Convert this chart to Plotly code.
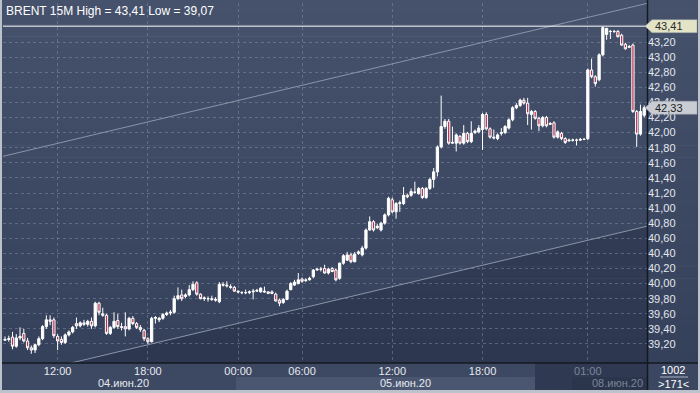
import plotly.graph_objects as go

# ---------------- data ----------------
open_ = [39.25,39.26,39.29,39.17,39.28,39.34,39.24,39.15,39.12,39.19,
         39.27,39.43,39.52,39.52,39.30,39.26,39.22,39.32,39.36,39.47,
         39.44,39.48,39.46,39.50,39.44,39.74,39.60,39.58,39.34,39.42,
         39.51,39.43,39.43,39.40,39.54,39.47,39.42,39.38,39.27,39.23,
         39.54,39.52,39.54,39.59,39.61,39.62,39.80,39.85,39.83,39.85,
         39.92,40.01,39.86,39.80,39.80,39.80,39.78,39.76,39.99,39.98,
         39.96,39.95,39.90,39.88,39.88,39.88,39.89,39.90,39.89,39.90,
         39.89,39.89,39.86,39.78,39.75,39.79,39.92,39.98,40.00,40.06,
         40.05,40.05,40.09,40.18,40.19,40.20,40.14,40.20,40.18,40.07,
         40.27,40.31,40.38,40.29,40.40,40.38,40.47,40.71,40.82,40.74,
         40.71,40.80,40.91,41.11,40.95,41.06,41.06,41.17,41.17,41.21,
         41.19,41.26,41.14,41.26,41.38,41.48,41.81,42.08,42.15,41.86,
         41.86,41.95,41.86,41.99,41.88,42.00,42.01,42.04,42.24,42.05,
         41.94,41.92,41.99,42.00,42.06,42.17,42.33,42.36,42.43,42.39,
         42.24,42.28,42.19,42.09,42.20,42.11,42.13,41.94,41.99,41.92,
         41.89,41.90,41.90,41.90,41.91,41.92,42.83,42.74,42.70,43.03,
         43.30,43.34,43.34,43.34,43.29,43.17,43.13,43.16,42.28,41.98,
         42.23]
high = [39.30,39.31,39.36,39.33,39.42,39.40,39.28,39.18,39.20,39.30,
        39.45,39.58,39.58,39.55,39.33,39.30,39.34,39.38,39.44,39.55,
        39.50,39.52,39.52,39.55,39.76,39.76,39.68,39.60,39.44,39.62,
        39.60,39.48,39.62,39.56,39.57,39.49,39.45,39.40,39.29,39.56,
        39.57,39.56,39.61,39.63,39.65,39.84,39.95,39.92,39.87,39.98,
        40.03,40.03,39.87,39.83,39.83,39.84,39.82,40.02,40.02,40.03,
        39.99,39.97,39.91,39.90,39.92,39.91,39.93,39.93,39.95,39.96,
        39.90,39.91,39.88,39.80,39.81,39.92,40.02,40.05,40.14,40.08,
        40.07,40.09,40.19,40.21,40.22,40.25,40.21,40.22,40.20,40.28,
        40.39,40.42,40.41,40.42,40.44,40.50,40.73,40.89,40.84,40.79,
        40.82,40.93,41.15,41.14,41.08,41.10,41.28,41.19,41.26,41.35,
        41.28,41.28,41.28,41.40,41.53,41.83,42.49,42.18,42.18,42.08,
        41.99,41.97,42.10,42.01,42.15,42.04,42.10,42.26,42.27,42.07,
        42.04,41.99,42.06,42.10,42.19,42.35,42.39,42.45,42.46,42.46,
        42.30,42.30,42.21,42.22,42.22,42.14,42.15,42.03,42.01,41.94,
        41.92,41.92,41.92,41.93,41.93,42.85,42.98,42.76,43.05,43.41,
        43.39,43.36,43.36,43.36,43.31,43.19,43.16,43.18,42.30,42.37,
        42.36]
low = [39.24,39.23,39.13,39.15,39.25,39.22,39.12,39.07,39.08,39.17,
       39.25,39.40,39.45,39.28,39.12,39.19,39.20,39.30,39.34,39.40,
       39.42,39.44,39.43,39.40,39.42,39.58,39.56,39.32,39.32,39.40,
       39.40,39.38,39.30,39.38,39.45,39.40,39.36,39.24,39.20,39.22,
       39.47,39.49,39.52,39.57,39.58,39.60,39.78,39.77,39.81,39.83,
       39.90,39.84,39.79,39.77,39.76,39.77,39.76,39.74,39.96,39.95,
       39.93,39.89,39.87,39.86,39.86,39.86,39.79,39.89,39.88,39.88,
       39.86,39.86,39.76,39.70,39.73,39.78,39.91,39.97,39.99,40.01,
       40.02,40.04,40.07,40.17,40.16,40.13,40.12,40.15,40.03,40.05,
       40.25,40.30,40.27,40.28,40.38,40.36,40.45,40.70,40.69,40.72,
       40.69,40.78,40.89,40.93,40.86,40.95,41.04,41.13,41.15,41.19,
       41.18,41.12,41.12,41.24,41.27,41.42,41.79,42.05,41.84,41.85,
       41.75,41.84,41.84,41.86,41.86,41.98,41.99,41.77,42.03,41.92,
       41.91,41.90,41.96,41.98,42.04,42.15,42.31,42.34,42.37,42.10,
       42.04,42.17,42.02,42.07,42.07,42.10,41.92,41.92,41.90,41.85,
       41.88,41.88,41.83,41.89,41.90,41.90,42.72,42.61,42.68,43.01,
       43.23,43.24,43.32,43.26,43.15,43.10,43.12,42.26,41.81,41.96,
       42.20]
close = [39.26,39.27,39.17,39.28,39.30,39.24,39.15,39.12,39.19,39.27,
         39.43,39.52,39.50,39.31,39.24,39.22,39.32,39.36,39.42,39.44,
         39.48,39.46,39.50,39.44,39.74,39.62,39.58,39.34,39.42,39.50,
         39.43,39.42,39.40,39.54,39.47,39.42,39.39,39.27,39.23,39.54,
         39.55,39.54,39.59,39.61,39.62,39.80,39.84,39.80,39.85,39.92,
         39.99,39.86,39.80,39.81,39.80,39.79,39.79,39.99,39.98,39.97,
         39.95,39.90,39.89,39.88,39.88,39.89,39.90,39.91,39.94,39.89,
         39.87,39.87,39.77,39.74,39.79,39.90,40.00,40.02,40.05,40.03,
         40.04,40.07,40.18,40.19,40.19,40.14,40.19,40.16,40.05,40.27,
         40.37,40.38,40.29,40.39,40.42,40.47,40.71,40.82,40.71,40.76,
         40.80,40.91,41.13,40.95,41.06,41.07,41.17,41.15,41.22,41.21,
         41.26,41.14,41.26,41.38,41.48,41.81,42.08,42.15,41.86,41.87,
         41.97,41.86,41.99,41.88,41.99,42.02,42.06,42.24,42.05,41.94,
         41.93,41.97,42.00,42.08,42.17,42.33,42.36,42.43,42.39,42.25,
         42.28,42.19,42.09,42.20,42.09,42.12,41.94,42.01,41.92,41.87,
         41.90,41.90,41.90,41.91,41.91,42.83,42.74,42.65,43.03,43.39,
         43.38,43.34,43.34,43.27,43.16,43.11,43.14,42.28,41.98,42.28,
         42.33]
bars = list(range(len(close)))

time_tick_pos = [14, 38, 62, 79, 103, 127, 155]
time_tick_text = ["12:00", "18:00", "00:00", "06:00", "12:00", "18:00", "01:00"]
date_pos = [31.4, 106.4, 163]
date_text = ["04.июн.20", "05.июн.20", "08.июн.20"]
price_ticks = [39.2 + 0.2 * k for k in range(21)]
title_text = "BRENT 15M High = 43,41 Low = 39,07"
hi_val, last_val = 43.41, 42.33

# ---------------- layout geometry (pixels) ----------------
W, H = 700, 393
ML, MR, MT, MB = 3, 53, 3, 30
PW, PH = W - ML - MR, H - MT - MB
def px(x):  # pixel x -> paper
    return (x - ML) / PW
def py(y):  # pixel y -> paper
    return (H - MB - y) / PH

X0, X1 = -0.53, 170.74
Y0, Y1 = 38.948, 43.717
ppu = PH / (Y1 - Y0)  # pixels per price unit

FONT = "Liberation Sans Narrow, Liberation Sans, Arial"

fig = go.Figure()
fig.add_trace(go.Candlestick(
    x=bars, open=open_, high=high, low=low, close=close,
    increasing=dict(line=dict(color="#ffffff", width=1), fillcolor="#ffffff"),
    decreasing=dict(line=dict(color="#ffffff", width=1), fillcolor="#b8324f"),
    whiskerwidth=0, hoverinfo="skip", showlegend=False,
))

shapes = []
def lerp(c1, c2, t):
    return "#%02x%02x%02x" % tuple(int(round(a + (b - a) * t)) for a, b in zip(c1, c2))
top_c, bot_c = (0x46, 0x52, 0x6c), (0x35, 0x40, 0x5a)
N = 30
for k in range(N):
    ya, yb = (H - MB) * k / N, (H - MB) * (k + 1) / N
    shapes.append(dict(type="rect", xref="paper", yref="paper", layer="below",
                       x0=px(2), x1=px(698), y0=py(yb + 0.5), y1=py(ya),
                       fillcolor=lerp(top_c, bot_c, (k + 0.5) / N), line=dict(width=0)))
# bottom strip
shapes.append(dict(type="rect", xref="paper", yref="paper", layer="below",
                   x0=px(2), x1=px(698), y0=py(390), y1=py(363),
                   fillcolor="#3d4962", line=dict(width=0)))
shapes.append(dict(type="rect", xref="paper", yref="paper", layer="below",
                   x0=px(236), x1=px(535), y0=py(390), y1=py(377),
                   fillcolor="#4a566f", line=dict(width=0)))
shapes.append(dict(type="rect", xref="paper", yref="paper", layer="below",
                   x0=px(535), x1=px(647), y0=py(390), y1=py(363),
                   fillcolor="#2f3a52", line=dict(width=0)))
shapes.append(dict(type="rect", xref="paper", yref="paper", layer="below",
                   x0=px(572), x1=px(647), y0=py(390), y1=py(377),
                   fillcolor="#2b354c", line=dict(width=0)))
shapes.append(dict(type="rect", xref="paper", yref="paper", layer="below",
                   x0=px(647), x1=px(698), y0=py(390), y1=py(363),
                   fillcolor="#3b4760", line=dict(width=0)))
# darker area below lower channel line
slope = 0.01183
lo0 = 38.734
lo1 = lo0 + slope * (X1 - X0)
up0 = 41.686
up1 = up0 + slope * (X1 - X0)
shapes.append(dict(type="path", xref="x", yref="y", layer="below",
                   path=f"M {X0},{lo0} L {X1},{lo1} L {X1},{Y0 - 1} L {X0},{Y0 - 1} Z",
                   fillcolor="rgba(16,24,42,0.22)", line=dict(width=0)))
for a, b in ((lo0, lo1), (up0, up1)):
    shapes.append(dict(type="line", xref="x", yref="y", layer="between",
                       x0=X0, x1=X1, y0=a, y1=b,
                       line=dict(color="#8a94a8", width=1)))
shapes.append(dict(type="line", xref="paper", yref="y", layer="above",
                   x0=0, x1=1, y0=hi_val, y1=hi_val,
                   line=dict(color="#ffffff", width=1)))
shapes.append(dict(type="line", xref="paper", yref="paper", layer="above",
                   x0=px(2), x1=px(698), y0=py(363), y1=py(363),
                   line=dict(color="#141821", width=1.5)))
shapes.append(dict(type="line", xref="paper", yref="paper", layer="above",
                   x0=px(647.5), x1=px(647.5), y0=py(390), y1=py(0),
                   line=dict(color="#141821", width=1.5)))
def marker(val, fill):
    h = 6.5 / ppu
    shapes.append(dict(type="path", xref="paper", yref="y", layer="above",
                       path=f"M {px(645)},{val} L {px(652)},{val + h} L {px(697)},{val + h} "
                            f"L {px(697)},{val - h} L {px(652)},{val - h} Z",
                       fillcolor=fill, line=dict(color="#9aa0a8", width=0.5)))
marker(hi_val, "#e3e3c6")
marker(last_val, "#c9cdd3")
shapes.append(dict(type="line", xref="paper", yref="paper", layer="above",
                   x0=px(660), x1=px(688), y0=py(377), y1=py(377),
                   line=dict(color="#aab3c2", width=1)))

annotations = [
    dict(text=title_text, xref="paper", yref="paper", x=px(4), y=py(2),
         xanchor="left", yanchor="top", showarrow=False,
         font=dict(family=FONT, size=12, color="#ffffff")),
    dict(text="43,41", xref="paper", yref="y", x=px(653), y=hi_val,
         xanchor="left", yanchor="middle", showarrow=False,
         font=dict(family=FONT, size=11, color="#2a2a2a")),
    dict(text="42,33", xref="paper", yref="y", x=px(653), y=last_val,
         xanchor="left", yanchor="middle", showarrow=False,
         font=dict(family=FONT, size=11, color="#222222")),
    dict(text="1002", xref="paper", yref="paper", x=px(673), y=py(370),
         xanchor="center", yanchor="middle", showarrow=False,
         font=dict(family=FONT, size=11, color="#ffffff")),
    dict(text="&gt;171&lt;", xref="paper", yref="paper", x=px(673), y=py(384),
         xanchor="center", yanchor="middle", showarrow=False,
         font=dict(family=FONT, size=11, color="#ffffff")),
]
for pos, t in zip(date_pos, date_text):
    col = "#7b859a" if t.startswith("08") else "#e6eaf0"
    annotations.append(dict(text=t, xref="x", yref="paper", x=pos, y=py(383),
                            xanchor="center", yanchor="middle", showarrow=False,
                            font=dict(family=FONT, size=11, color=col)))

ticktext = [t if i < len(time_tick_text) - 1 else f"<span style='color:#7b859a'>{t}</span>"
            for i, t in enumerate(time_tick_text)]

fig.update_layout(
    width=W, height=H, margin=dict(l=ML, r=MR, t=MT, b=MB, pad=0),
    paper_bgcolor="#bcc2cb", plot_bgcolor="rgba(0,0,0,0)",
    separators=", ", showlegend=False, dragmode=False,
    boxgap=0.25, boxgroupgap=0.2,
    shapes=shapes, annotations=annotations,
    xaxis=dict(range=[X0, X1], rangeslider=dict(visible=False),
               tickvals=time_tick_pos, ticktext=ticktext, ticks="",
               showgrid=True, gridcolor="rgba(130,143,168,0.5)", griddash="3px,3px",
               gridwidth=1, zeroline=False, showline=False, automargin=False,
               tickfont=dict(family=FONT, size=11, color="#e6eaf0")),
    yaxis=dict(range=[Y0, Y1], side="right", tickvals=price_ticks, tickformat=".2f",
               ticks="", showgrid=True, gridcolor="rgba(130,143,168,0.5)",
               griddash="3px,3px", gridwidth=1, zeroline=False, showline=False,
               automargin=False,
               tickfont=dict(family=FONT, size=11, color="#e3e8ef")),
)

fig.write_html("out.html", config={"displayModeBar": False},
               post_script="document.body.style.margin='0';document.body.style.padding='0';")
